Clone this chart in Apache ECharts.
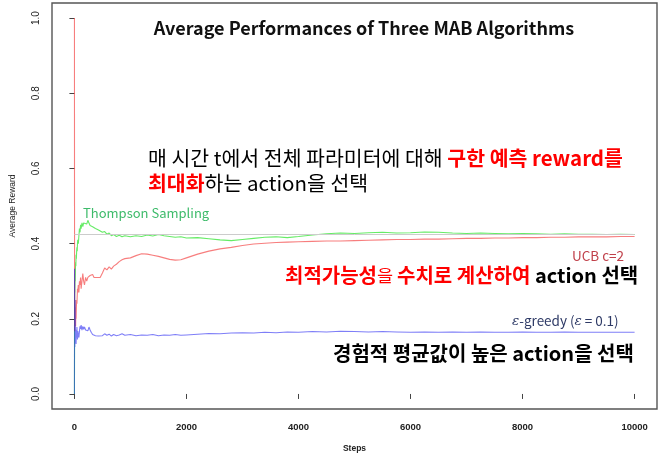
<!DOCTYPE html>
<html>
<head>
<meta charset="utf-8">
<script src="https://cdn.jsdelivr.net/npm/echarts@6/dist/echarts.min.js"></script>
<style>html,body{margin:0;padding:0;background:#fff}#c{width:666px;height:458px}</style>
</head>
<body>
<div id="c"></div>
<script>
const steps = [1,2,3,4,5,6,8,10,12,15,18,22,26,30,35,40,45,50,55,60,70,80,90,100,110,120,135,150,165,180,200,220,240,260,280,300,325,350,375,400,430,460,500,540,580,620,660,700,750,800,850,900,1000,1100,1200,1300,1400,1500,1600,1700,1800,1900,2000,2200,2400,2600,2800,3000,3200,3400,3600,3800,4000,4250,4500,4750,5000,5250,5500,5750,6000,6250,6500,6750,7000,7250,7500,7750,8000,8250,8500,8750,9000,9250,9500,9750,10000];

const thompson = [0,0.1,0.2,0.25,0.28,0.3,0.27,0.3,0.32,0.3,0.33,0.35,0.34,0.37,0.36,0.38,0.39,0.38,0.4,0.41,0.4,0.42,0.44,0.43,0.45,0.44,0.455,0.445,0.455,0.45,0.46,0.452,0.462,0.455,0.448,0.452,0.445,0.448,0.44,0.443,0.436,0.438,0.43,0.432,0.425,0.428,0.421,0.424,0.419,0.422,0.418,0.421,0.418,0.421,0.419,0.423,0.42,0.424,0.421,0.419,0.417,0.418,0.415,0.416,0.413,0.41,0.408,0.411,0.414,0.417,0.418,0.416,0.419,0.423,0.426,0.428,0.427,0.429,0.43,0.428,0.429,0.431,0.43,0.428,0.427,0.428,0.427,0.426,0.427,0.426,0.425,0.426,0.425,0.425,0.424,0.425,0.424];

const ucb = [1.0,0.5,0.333,0.25,0.2,0.167,0.25,0.2,0.25,0.2,0.222,0.18,0.23,0.2,0.23,0.25,0.24,0.26,0.28,0.27,0.29,0.27,0.3,0.29,0.31,0.28,0.3,0.32,0.3,0.29,0.31,0.3,0.31,0.305,0.315,0.31,0.318,0.31,0.305,0.31,0.306,0.31,0.322,0.335,0.33,0.338,0.332,0.34,0.345,0.352,0.357,0.36,0.362,0.368,0.373,0.372,0.369,0.366,0.362,0.358,0.356,0.357,0.362,0.372,0.38,0.386,0.39,0.395,0.399,0.401,0.403,0.404,0.405,0.406,0.407,0.407,0.408,0.409,0.41,0.411,0.411,0.412,0.412,0.413,0.414,0.414,0.415,0.415,0.416,0.416,0.417,0.417,0.418,0.418,0.418,0.419,0.419];

const egreedy = [0,0,0.333,0.25,0.2,0.167,0.125,0.2,0.25,0.2,0.167,0.136,0.154,0.133,0.171,0.15,0.178,0.16,0.145,0.167,0.171,0.15,0.167,0.18,0.173,0.183,0.17,0.18,0.172,0.178,0.17,0.175,0.168,0.178,0.17,0.164,0.158,0.16,0.155,0.158,0.154,0.158,0.155,0.16,0.156,0.159,0.154,0.158,0.155,0.157,0.16,0.156,0.158,0.155,0.157,0.156,0.158,0.155,0.157,0.156,0.158,0.156,0.157,0.159,0.161,0.16,0.162,0.163,0.162,0.164,0.163,0.165,0.164,0.166,0.165,0.167,0.166,0.165,0.166,0.165,0.164,0.165,0.164,0.165,0.164,0.165,0.164,0.164,0.165,0.164,0.164,0.165,0.164,0.164,0.164,0.164,0.164];

const optimal = 0.424;
const xTicks = [0,2000,4000,6000,8000,10000];
const yTicks = [0,0.2,0.4,0.6,0.8,1.0];

const pair = arr => steps.map((s,i)=>[s,arr[i]]);
const KR = '"Noto Sans CJK KR", "Noto Sans", sans-serif';
const SANS = '"Liberation Sans", Arial, sans-serif';
const chart = echarts.init(document.getElementById('c'));
const lineSeries = (name, arr, color) => ({
  name, type:'line', data: pair(arr), showSymbol:false, symbol:'none',
  lineStyle:{color, width:1.1}, animation:false, z:3
});
const red = {fontFamily:KR, fontSize:20.5, fontWeight:'bold', fill:'#ff0000'};
const blk = {fontFamily:KR, fontSize:20.5, fill:'#000'};
const redB = {fontFamily:KR, fontSize:20, fontWeight:'bold', fill:'#ff0000'};
chart.setOption({
  animation:false,
  backgroundColor:'#fff',
  title:{text:'Average Performances of Three MAB Algorithms', left:359, top:14, textAlign:'center',
    textStyle:{fontFamily:KR, fontSize:18, fontWeight:'bold', color:'#111'}},
  grid:{left:48, right:9, top:3, bottom:48, show:true, borderColor:'#555', borderWidth:1.4, backgroundColor:'transparent'},
  xAxis:{type:'value', min:-400, max:10400,
    name:'Steps', nameLocation:'middle', nameGap:35,
    nameTextStyle:{fontFamily:SANS, fontSize:8.5, fontWeight:'bold', color:'#222'},
    axisLine:{show:false}, splitLine:{show:false},
    axisTick:{show:true, length:5, lineStyle:{color:'#444'}, customValues:xTicks},
    axisLabel:{customValues:xTicks, margin:13, formatter:v=>String(v), fontFamily:SANS, fontSize:9.5, fontWeight:'bold', color:'#222'}},
  yAxis:{type:'value', min:-0.04, max:1.04,
    name:'Average Reward', nameLocation:'middle', nameGap:35, nameRotate:90,
    nameTextStyle:{fontFamily:SANS, fontSize:8.5, color:'#222'},
    axisLine:{show:false}, splitLine:{show:false},
    axisTick:{show:true, length:5, lineStyle:{color:'#444'}, customValues:yTicks},
    axisLabel:{customValues:yTicks, rotate:90, margin:11, formatter:v=>v.toFixed(1),
      fontFamily:SANS, fontSize:10, color:'#222'}},
  series:[
    {type:'line', data:[], markLine:{silent:true, symbol:'none', label:{show:false},
      lineStyle:{color:'#cccccc', width:1, type:'solid'},
      data:[[{coord:[0,optimal]},{coord:[10000,optimal]}]]}, z:1},
    lineSeries('Thompson Sampling', thompson, 'rgba(20,225,20,0.65)'),
    lineSeries('UCB c=2', ucb, 'rgba(240,20,20,0.55)'),
    lineSeries('e-greedy', egreedy, 'rgba(20,20,240,0.55)')
  ],
  graphic:[
    {type:'text', x:83, y:213, style:{text:'Thompson Sampling', fontFamily:KR, fontSize:13, fill:'#3dbb6a', verticalAlign:'middle'}},
    {type:'text', x:148, y:158, style:{text:'{n|매 시간 t에서 전체 파라미터에 대해 }{r|구한 예측 reward를}', verticalAlign:'middle',
      rich:{n:blk, r:red}}},
    {type:'text', x:148, y:183, style:{text:'{r|최대화}{n|하는 action을 선택}', verticalAlign:'middle',
      rich:{n:blk, r:red}}},
    {type:'text', x:572, y:256, style:{text:'UCB c=2', fontFamily:KR, fontSize:13.5, fill:'#c0404a', verticalAlign:'middle'}},
    {type:'text', x:285, y:275, style:{text:'{r|최적가능성}{rn|을 }{r|수치로 계산하여 }{b|action 선택}', verticalAlign:'middle',
      rich:{r:redB, rn:{fontFamily:KR, fontSize:17.5, fill:'#ff0000'}, b:{fontFamily:KR, fontSize:20, fontWeight:'bold', fill:'#000'}}}},
    {type:'text', x:512, y:321, style:{text:'{i|ε}{n|-greedy (}{i|ε}{n| = 0.1)}', verticalAlign:'middle',
      rich:{i:{fontFamily:'"DejaVu Serif", serif', fontStyle:'italic', fontSize:13.5, fill:'#2e3a66'}, n:{fontFamily:KR, fontSize:13.5, fill:'#2e3a66'}}}},
    {type:'text', x:333, y:353, style:{text:'경험적 평균값이 높은 action을 선택', fontFamily:KR, fontSize:20, fontWeight:'bold', fill:'#000', verticalAlign:'middle'}}
  ]
});
</script>
</body>
</html>
